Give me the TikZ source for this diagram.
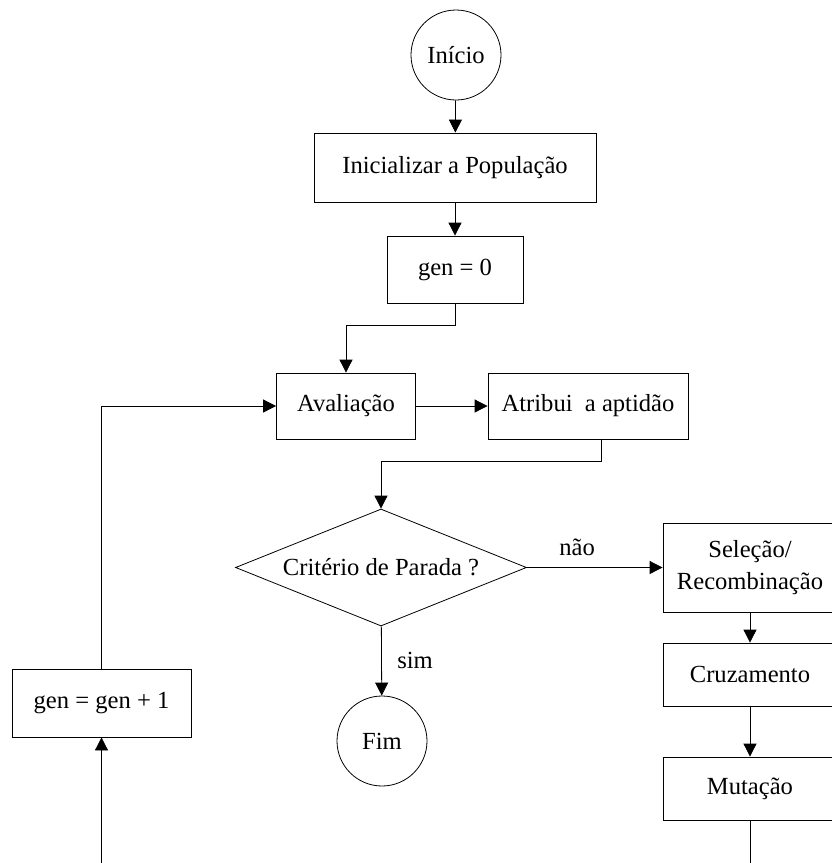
\documentclass[tikz,border=0pt]{standalone}
\usepackage{fontspec}
\setmainfont{Liberation Serif}
\usetikzlibrary{arrows.meta,shapes.geometric}

\begin{document}
\begin{tikzpicture}[x=1pt,y=-1pt,
  every node/.style={font=\fontsize{24.6}{32}\selectfont},
  caixa/.style={draw,rectangle,inner sep=0pt,line width=0.8pt,align=center},
  terminal/.style={draw,circle,minimum size=90pt,inner sep=0pt,line width=0.8pt},
  decisao/.style={draw,diamond,aspect=2.49,inner sep=0pt,line width=0.8pt},
  seta/.style={-{Triangle[length=13pt,width=13pt]},line width=0.8pt},
  linha/.style={line width=0.8pt}]
\clip (0,0) rectangle (832,863);
\useasboundingbox (0,0) rectangle (832,863);

% Main column
\node[terminal] (ini) at (456,55) {Início};
\node[caixa,minimum width=282pt,minimum height=69pt] (pop) at (455,167.5) {Inicializar a População};
\node[caixa,minimum width=136pt,minimum height=67pt] (gen0) at (455,269.5) {gen = 0};
\node[caixa,minimum width=139pt,minimum height=66pt] (aval) at (346,406) {Avaliação};
\node[caixa,minimum width=200pt,minimum height=66pt] (atrib) at (588,406) {Atribui\ \ a aptidão};
\node[decisao,minimum width=291pt,minimum height=117pt] (crit) at (381,567.5) {Critério de Parada ?};
\node[terminal] (fim) at (382,741) {Fim};

% Genetic operators
\node[caixa,minimum width=174pt,minimum height=89pt] (sel) at (750,567.5) {Seleção/\\Recombinação};
\node[caixa,minimum width=174pt,minimum height=63pt] (cruz) at (750,674.5) {Cruzamento};
\node[caixa,minimum width=174pt,minimum height=63pt] (mut) at (750,788.5) {Mutação};

% Generation counter
\node[caixa,minimum width=179pt,minimum height=68pt] (gen1) at (101.5,703) {gen = gen + 1};
\coordinate (fundoE) at (101.5,863);
\coordinate (fundoD) at (750,863);

% Connectors
\draw[seta] (ini) -- (pop);
\draw[seta] (pop) -- (gen0);
\draw[seta] (gen0.south) -- ++(0,22) -| (aval.north);
\draw[seta] (aval) -- (atrib);
\draw[seta] ([xshift=13pt]atrib.south) -- ++(0,22) -| (crit.north);
\draw[seta] (crit) -- node[pos=0.37,above=8pt] {não} (sel);
\draw[seta] (crit) -- node[pos=0.5,right=12pt] {sim} (fim);
\draw[seta] (sel) -- (cruz);
\draw[seta] (cruz) -- (mut);
\draw[linha] (mut) -- (fundoD);
\draw[seta] (fundoE) -- (gen1);
\draw[seta] (gen1.north) |- (aval.west);
\end{tikzpicture}
\end{document}
